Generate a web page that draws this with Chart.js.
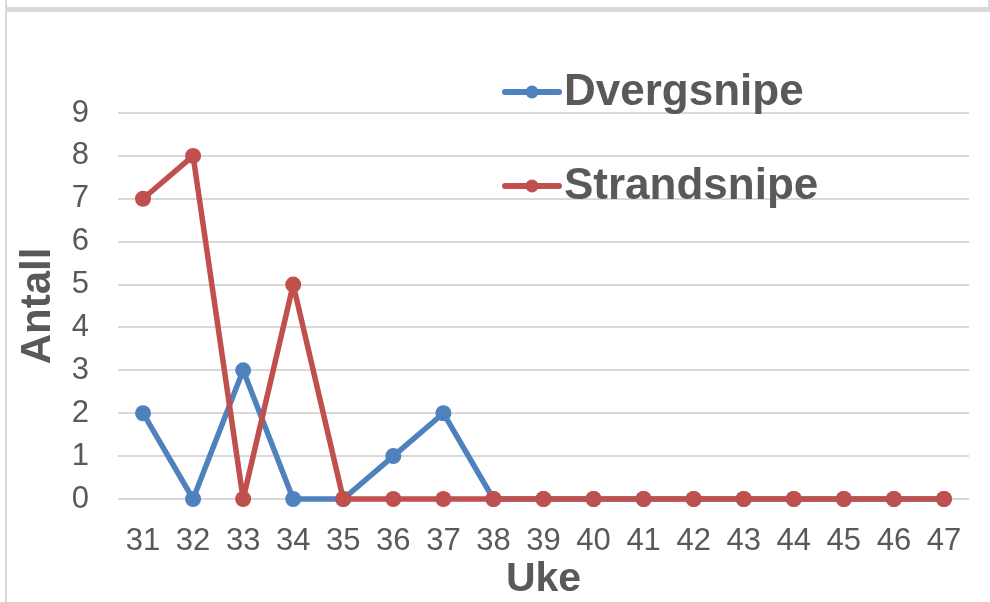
<!DOCTYPE html>
<html>
<head>
<meta charset="utf-8">
<script src="https://cdn.jsdelivr.net/npm/chart.js@4.4.1/dist/chart.umd.min.js"></script>
<style>
  html, body { margin: 0; padding: 0; background: #ffffff; }
  #wrap { position: relative; width: 990px; height: 602px; }
  canvas { display: block; }
</style>
</head>
<body>
<div id="wrap"><canvas id="c" width="990" height="602"></canvas></div>
<script>
// Weekly counts of two sandpiper species
const weeks = ['31','32','33','34','35','36','37','38','39','40','41','42','43','44','45','46','47'];
const dvergsnipe = [2, 0, 3, 0, 0, 1, 2, 0, 0, 0, 0, 0, 0, 0, 0, 0, 0];
const strandsnipe = [7, 8, 0, 5, 0, 0, 0, 0, 0, 0, 0, 0, 0, 0, 0, 0, 0];
const yTicks = [0, 1, 2, 3, 4, 5, 6, 7, 8, 9];

const FONT = '"Liberation Sans", Arial, sans-serif';
const TEXT = '#595959';
const BLUE = '#4F81BD';
const RED = '#C0504D';

// Light frame around the chart block
const framePlugin = {
  id: 'frame',
  beforeDraw(chart) {
    const ctx = chart.ctx;
    ctx.save();
    ctx.fillStyle = '#ffffff';
    ctx.fillRect(0, 0, chart.width, chart.height);
    ctx.fillStyle = '#d9d9d9';
    ctx.fillRect(6, 7, chart.width - 6, 5);
    ctx.fillRect(5, 0, 2, chart.height);
    ctx.fillRect(chart.width - 2, 0, 2, 7);
    ctx.restore();
  }
};

// Legend drawn inside the plot area, one entry per row
const legendPlugin = {
  id: 'innerLegend',
  afterDatasetsDraw(chart) {
    const ctx = chart.ctx;
    const rows = [92, 186];
    ctx.save();
    chart.data.datasets.forEach((ds, i) => {
      const y = rows[i];
      ctx.strokeStyle = ds.borderColor;
      ctx.lineWidth = 6;
      ctx.lineCap = 'round';
      ctx.beginPath();
      ctx.moveTo(505, y);
      ctx.lineTo(559, y);
      ctx.stroke();
      ctx.fillStyle = ds.borderColor;
      ctx.beginPath();
      ctx.arc(532, y, 6.5, 0, Math.PI * 2);
      ctx.fill();
      ctx.fillStyle = TEXT;
      ctx.font = 'bold 44px ' + FONT;
      ctx.textBaseline = 'middle';
      ctx.textAlign = 'left';
      ctx.fillText(ds.label, 564, y + 1);
    });
    ctx.restore();
  }
};

const lineStyle = {
  borderWidth: 5.5,
  borderJoinStyle: 'round',
  borderCapStyle: 'round',
  pointRadius: 8,
  pointHoverRadius: 8,
  pointBorderWidth: 0,
  tension: 0,
  clip: false
};

new Chart(document.getElementById('c'), {
  type: 'line',
  data: {
    labels: weeks,
    datasets: [
      Object.assign({
        label: 'Dvergsnipe',
        data: dvergsnipe,
        borderColor: BLUE,
        backgroundColor: BLUE,
        order: 1
      }, lineStyle),
      Object.assign({
        label: 'Strandsnipe',
        data: strandsnipe,
        borderColor: RED,
        backgroundColor: RED,
        order: 0
      }, lineStyle)
    ]
  },
  options: {
    responsive: false,
    devicePixelRatio: 1,
    animation: false,
    layout: { padding: { left: 0, top: 113, right: 21, bottom: 0 } },
    plugins: {
      legend: { display: false },
      tooltip: { enabled: false }
    },
    scales: {
      x: {
        offset: true,
        grid: { display: false, drawTicks: false },
        border: { display: false },
        ticks: { color: TEXT, font: { family: FONT, size: 31 }, padding: 24, maxRotation: 0, autoSkip: false },
        title: { display: true, text: 'Uke', color: TEXT, font: { family: FONT, size: 41, weight: 'bold' }, padding: { top: 0, bottom: -2 } },
        afterFit(scale) { scale.height = 103; }
      },
      y: {
        min: 0,
        max: 9,
        afterBuildTicks(scale) { scale.ticks = yTicks.map(v => ({ value: v })); },
        grid: { color: '#d9d9d9', lineWidth: 2, drawTicks: false },
        border: { display: false },
        ticks: { color: TEXT, font: { family: FONT, size: 31 }, padding: 29 },
        title: { display: true, text: 'Antall', color: TEXT, font: { family: FONT, size: 42, weight: 'bold' }, padding: { top: 13, bottom: 0 } },
        afterFit(scale) { scale.width = 118; }
      }
    }
  },
  plugins: [framePlugin, legendPlugin]
});
</script>
</body>
</html>
